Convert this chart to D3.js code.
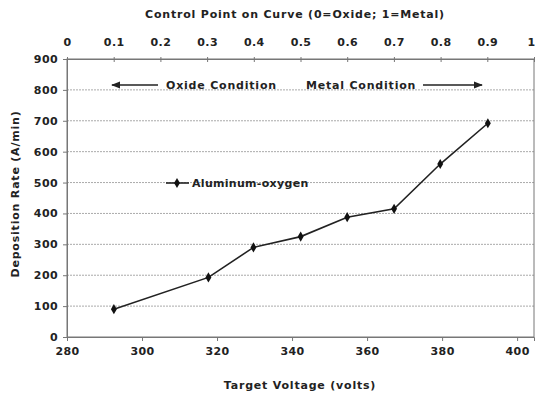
<!DOCTYPE html>
<html>
<head>
<meta charset="utf-8">
<script src="https://cdn.jsdelivr.net/npm/d3@7"></script>
<style>
  body { margin: 0; background: #fff; }
  text { font-family: "DejaVu Sans", "Liberation Sans", Arial, sans-serif; font-weight: bold; fill: #222; }
</style>
</head>
<body>
<div id="chart"></div>
<script>
const width = 535;
const height = 397;

// data
const voltage = [292.5, 317.7, 329.7, 342.3, 354.7, 367.2, 379.5, 392.2];
const rate = [90, 193, 290, 325, 388, 415, 560, 692];
const seriesName = 'Aluminum-oxygen';
const voltTicks = [280, 300, 320, 340, 360, 380, 400];
const rateTicks = [0, 100, 200, 300, 400, 500, 600, 700, 800, 900];
const controlTicks = [0, 0.1, 0.2, 0.3, 0.4, 0.5, 0.6, 0.7, 0.8, 0.9, 1];

const margin = {top: 59, right: 1, bottom: 60, left: 67};
const font = '"DejaVu Sans", "Liberation Sans", Arial, sans-serif';

const svg = d3.select('#chart').append('svg')
  .attr('width', width)
  .attr('height', height);

const x = d3.scaleLinear().domain([280, 404.5]).range([margin.left, width - margin.right]);
const xTop = d3.scaleLinear().domain([0, 1]).range([margin.left, width - margin.right]);
const y = d3.scaleLinear().domain([0, 900]).range([height - margin.bottom, margin.top]);

// gridlines
svg.append('g').selectAll('line').data(rateTicks.slice(1, -1)).join('line')
  .attr('x1', x.range()[0]).attr('x2', x.range()[1])
  .attr('y1', d => y(d)).attr('y2', d => y(d))
  .attr('stroke', '#aaa')
  .attr('stroke-width', 1)
  .attr('stroke-dasharray', '2,1');

// frame
svg.append('rect')
  .attr('x', x.range()[0]).attr('y', y.range()[1])
  .attr('width', x.range()[1] - x.range()[0])
  .attr('height', y.range()[0] - y.range()[1])
  .attr('fill', 'none').attr('stroke', '#777');

// axes
const fmt = d3.format('');
const g_x = svg.append('g')
  .attr('transform', `translate(0,${y.range()[0]})`)
  .call(d3.axisBottom(x).tickValues(voltTicks).tickSize(4).tickPadding(6).tickFormat(fmt));
const g_top = svg.append('g')
  .attr('transform', `translate(0,${y.range()[1]})`)
  .call(d3.axisTop(xTop).tickValues(controlTicks).tickSizeInner(3).tickSizeOuter(0).tickPadding(10).tickFormat(fmt));
const g_y = svg.append('g')
  .attr('transform', `translate(${x.range()[0]},0)`)
  .call(d3.axisLeft(y).tickValues(rateTicks).tickSize(4).tickPadding(5));

[g_x, g_top, g_y].forEach(g => {
  g.select('.domain').attr('stroke', '#777');
  g.selectAll('.tick line').attr('stroke', '#777');
  g.selectAll('.tick text')
    .style('font-size', '11px')
    .style('font-family', font)
    .style('font-weight', 'bold')
    .style('letter-spacing', '0.4px')
    .attr('fill', '#222');
});
g_top.selectAll('.tick line').attr('y2', 3).attr('y1', -2);
// last top label sits at the right edge
g_top.selectAll('.tick text').filter(d => d === 1).attr('text-anchor', 'end').attr('dx', 1);

// axis titles
function label(sel) {
  return sel.style('font-size', '11px').style('letter-spacing', '0.8px');
}

label(svg.append('text'))
  .attr('x', 295).attr('y', 18)
  .attr('text-anchor', 'middle')
  .text('Control Point on Curve (0=Oxide; 1=Metal)');

label(svg.append('text'))
  .attr('x', 300).attr('y', 389)
  .attr('text-anchor', 'middle')
  .text('Target Voltage (volts)');

label(svg.append('text'))
  .attr('transform', 'translate(19,194) rotate(-90)')
  .attr('text-anchor', 'middle')
  .text('Deposition Rate (A/min)');

// series
const pts = voltage.map((v, i) => [v, rate[i]]);
const line = d3.line().x(d => x(d[0])).y(d => y(d[1]));
svg.append('path')
  .attr('d', line(pts))
  .attr('fill', 'none')
  .attr('stroke', '#222')
  .attr('stroke-width', 1.6);
svg.append('g').selectAll('path').data(pts).join('path')
  .attr('transform', d => `translate(${x(d[0])},${y(d[1])})`)
  .attr('d', d3.symbol(d3.symbolDiamond, 30))
  .attr('fill', '#111');

// annotations
svg.append('defs').append('marker')
  .attr('id', 'arrow')
  .attr('viewBox', '0 0 10 10')
  .attr('refX', 9).attr('refY', 5)
  .attr('markerWidth', 7).attr('markerHeight', 7)
  .attr('orient', 'auto-start-reverse')
  .append('path').attr('d', 'M0,1 L10,5 L0,9 z').attr('fill', '#222');

const annY = 85;
svg.append('line')
  .attr('x1', 158).attr('x2', 112).attr('y1', annY).attr('y2', annY)
  .attr('stroke', '#222').attr('stroke-width', 1.3)
  .attr('marker-end', 'url(#arrow)');
label(svg.append('text'))
  .attr('x', 166).attr('y', annY + 4)
  .text('Oxide Condition');
label(svg.append('text'))
  .attr('x', 306).attr('y', annY + 4)
  .text('Metal Condition');
svg.append('line')
  .attr('x1', 423).attr('x2', 482).attr('y1', annY).attr('y2', annY)
  .attr('stroke', '#222').attr('stroke-width', 1.3)
  .attr('marker-end', 'url(#arrow)');

// legend
const legY = 183;
svg.append('line')
  .attr('x1', 166).attr('x2', 189).attr('y1', legY).attr('y2', legY)
  .attr('stroke', '#222').attr('stroke-width', 1.6);
svg.append('path')
  .attr('transform', `translate(177,${legY})`)
  .attr('d', d3.symbol(d3.symbolDiamond, 30))
  .attr('fill', '#111');
svg.append('text')
  .attr('x', 192).attr('y', legY + 4)
  .style('font-size', '11px')
  .style('letter-spacing', '0.3px')
  .text(seriesName);
</script>
</body>
</html>
